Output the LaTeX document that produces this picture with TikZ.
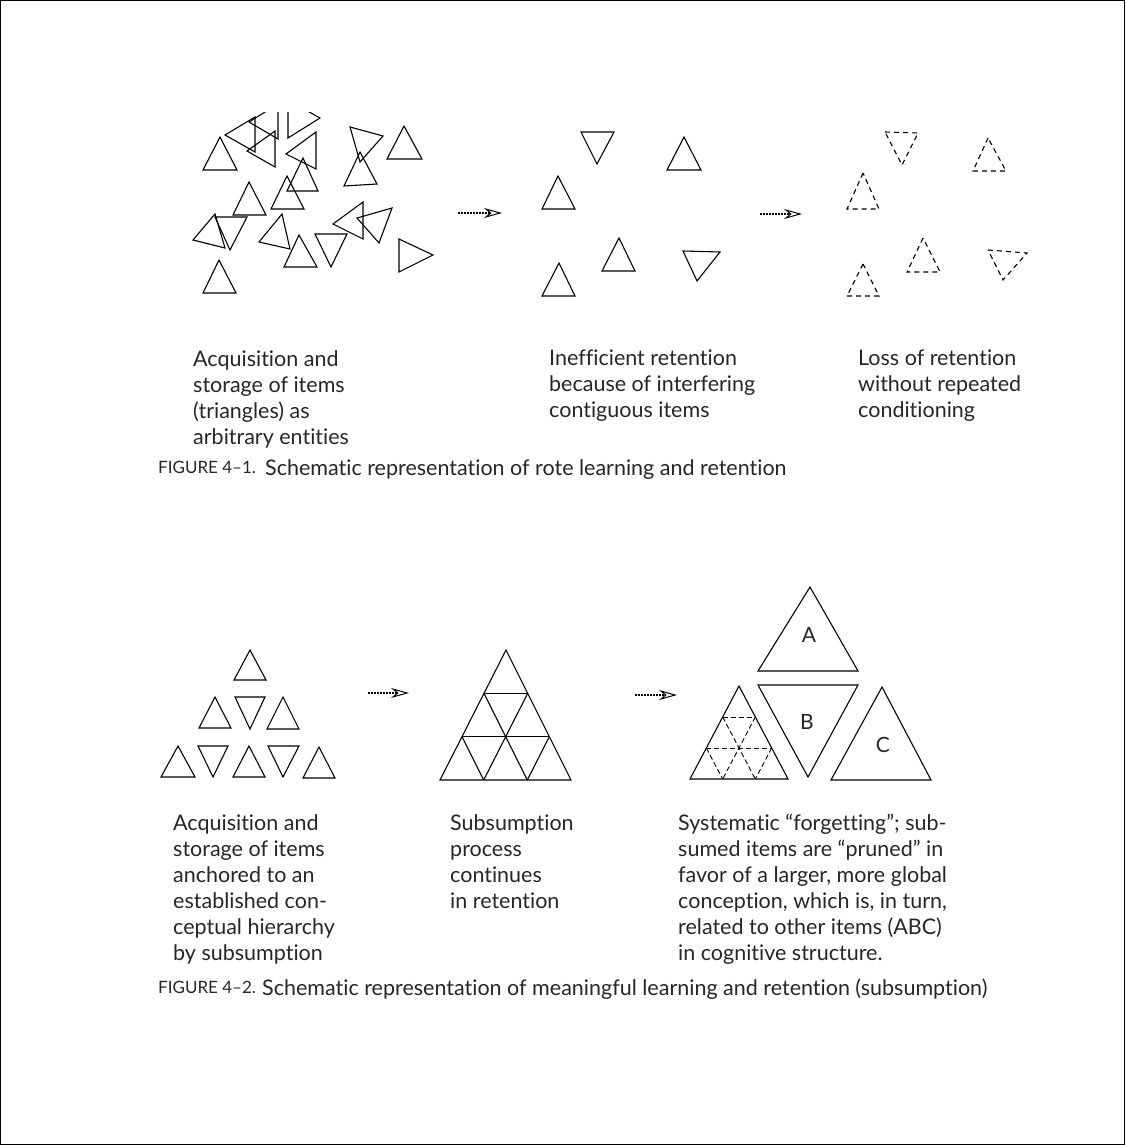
\documentclass[tikz,border=0pt]{standalone}
\usepackage{fontspec}
\setmainfont{Lato}[Ligatures={NoCommon,NoContextual}]
\usetikzlibrary{arrows.meta}

\begin{document}
\begin{tikzpicture}[x=1pt,y=-1pt,
	tri/.style={line width=1.1pt, line join=miter},
	dtri/.style={line width=1.1pt, dash pattern=on 5pt off 4pt},
	dgrid/.style={line width=0.9pt, dash pattern=on 5pt off 3pt},
	pointer/.style={line width=1.6pt, dash pattern=on 2pt off 1pt, -{Stealth[open, length=18pt, width=10pt, inset=6pt, line width=1pt]}},
	txt/.style={font=\fontsize{21.5}{26}\selectfont, inner sep=0pt, anchor=north west, align=left, text=black!85},
	figno/.style={font=\fontsize{17}{26}\selectfont, inner sep=0pt, anchor=north west, text=black!85},
	letter/.style={font=\fontsize{21}{21}\selectfont, inner sep=0pt, text=black!85}]
	\useasboundingbox (0,0) rectangle (1125,1145);
	\draw[line width=1pt] (0.5,0.5) rectangle (1124.5,1144.5);
	
	% rote learning: loose items
	\begin{scope}
		\clip (150,113) rectangle (470,320);
		\draw[tri] (203,170) -- (237,170) -- (220,137) -- cycle;
		\draw[tri] (225,135) -- (255,117) -- (255,152) -- cycle;
		\draw[tri] (247,151) -- (275,131) -- (275,167) -- cycle;
		\draw[tri] (278,139) -- (278,104) -- (249,122) -- cycle;
		\draw[tri] (288,138) -- (288,100) -- (320,118) -- cycle;
		\draw[tri] (286,154) -- (316,132) -- (316,169) -- cycle;
		\draw[tri] (303,158) -- (287,191) -- (318,191) -- cycle;
		\draw[tri] (287,176) -- (271,209) -- (304,209) -- cycle;
		\draw[tri] (249,182) -- (233,215) -- (266,215) -- cycle;
		\draw[tri] (350,127) -- (383,136) -- (360,162) -- cycle;
		\draw[tri] (360,152) -- (344,186) -- (377,184) -- cycle;
		\draw[tri] (404,126) -- (387,159) -- (422,159) -- cycle;
		\draw[tri] (193,240) -- (215,214) -- (225,248) -- cycle;
		\draw[tri] (215,217) -- (247,217) -- (230,250) -- cycle;
		\draw[tri] (259,242) -- (282,214) -- (290,249) -- cycle;
		\draw[tri] (299,235) -- (284,267) -- (317,267) -- cycle;
		\draw[tri] (315,234) -- (347,234) -- (331,267) -- cycle;
		\draw[tri] (333,224) -- (363,202) -- (363,239) -- cycle;
		\draw[tri] (357,218) -- (392,208) -- (379,243) -- cycle;
		\draw[tri] (399,239) -- (399,272) -- (433,255) -- cycle;
		\draw[tri] (219,260) -- (203,293) -- (236,293) -- cycle;
	\end{scope}
	
	\coordinate (p1s) at (458,213);
	\coordinate (p1e) at (502,213);
	\draw[pointer] (p1s) -- (p1e);
	
	\draw[tri] (581,132) -- (614,132) -- (597,164) -- cycle;
	\draw[tri] (684,137) -- (667,170) -- (701,170) -- cycle;
	\draw[tri] (558,176) -- (542,209) -- (575,209) -- cycle;
	\draw[tri] (619,238) -- (602,271) -- (635,271) -- cycle;
	\draw[tri] (683,251) -- (720,252) -- (697,281) -- cycle;
	\draw[tri] (559,263) -- (542,296) -- (575,296) -- cycle;
	
	\coordinate (p2s) at (760,214);
	\coordinate (p2e) at (802,214);
	\draw[pointer] (p2s) -- (p2e);
	
	\draw[dtri] (885,132) -- (918,133) -- (902,165) -- cycle;
	\draw[dtri] (988,138) -- (973,171) -- (1006,171) -- cycle;
	\draw[dtri] (863,173) -- (847,209) -- (879,209) -- cycle;
	\draw[dtri] (923,238) -- (907,272) -- (940,272) -- cycle;
	\draw[dtri] (988,250) -- (1027,253) -- (1003,280) -- cycle;
	\draw[dtri] (863,264) -- (847,296) -- (879,296) -- cycle;
	
	\node[txt] (rote1) at (193,350) {Acquisition and\\storage of items\\(triangles) as\\arbitrary entities};
	\node[txt] (rote2) at (549,350) {Inefficient retention\\because of interfering\\contiguous items};
	\node[txt] (rote3) at (858,350) {Loss of retention\\without repeated\\conditioning};
	\node[figno] (fig1) at (158,461) {FIGURE 4--1.};
	\node[txt] (cap1) at (265,459) {Schematic representation of rote learning and retention};
	
	% meaningful learning: anchored items
	\draw[tri] (250,650) -- (234,680) -- (266,680) -- cycle;
	\draw[tri] (215,697) -- (199,728) -- (231,728) -- cycle;
	\draw[tri] (235,697) -- (265,697) -- (250,729) -- cycle;
	\draw[tri] (283,697) -- (267,729) -- (299,729) -- cycle;
	\draw[tri] (178,746) -- (161,777) -- (195,777) -- cycle;
	\draw[tri] (198,746) -- (228,746) -- (213,777) -- cycle;
	\draw[tri] (249,746) -- (233,777) -- (265,777) -- cycle;
	\draw[tri] (268,746) -- (299,746) -- (283,777) -- cycle;
	\draw[tri] (319,747) -- (303,778) -- (335,778) -- cycle;
	
	\coordinate (p3s) at (368,693);
	\coordinate (p3e) at (409,693);
	\draw[pointer] (p3s) -- (p3e);
	
	\draw[tri] (506,650) -- (440,780) -- (571,780) -- cycle;
	\draw[tri] (484,693.3) -- (527.7,693.3);
	\draw[tri] (462,736.7) -- (549.3,736.7);
	\draw[tri] (527.7,693.3) -- (483.7,780);
	\draw[tri] (549.3,736.7) -- (527.3,780);
	\draw[tri] (484,693.3) -- (527.3,780);
	\draw[tri] (462,736.7) -- (483.7,780);
	
	\coordinate (p4s) at (635,695);
	\coordinate (p4e) at (677,695);
	\draw[pointer] (p4s) -- (p4e);
	
	\draw[tri] (739,686) -- (690,779) -- (788,779) -- cycle;
	\draw[dgrid] (722.7,717) -- (755.3,717);
	\draw[dgrid] (706.3,748) -- (771.7,748);
	\draw[dgrid] (755.3,717) -- (722.7,779);
	\draw[dgrid] (771.7,748) -- (755.3,779);
	\draw[dgrid] (722.7,717) -- (755.3,779);
	\draw[dgrid] (706.3,748) -- (722.7,779);
	
	\draw[tri] (810,587) -- (758,671) -- (858,671) -- cycle;
	\draw[tri] (758,685) -- (858,685) -- (808,777) -- cycle;
	\draw[tri] (882,687) -- (831,780) -- (931,780) -- cycle;
	\node[letter] (itemA) at (809,635) {A};
	\node[letter] (itemB) at (807,722) {B};
	\node[letter] (itemC) at (883,745) {C};
	
	\node[txt] (mean1) at (173,814) {Acquisition and\\storage of items\\anchored to an\\established con-\\ceptual hierarchy\\by subsumption};
	\node[txt] (mean2) at (450,814) {Subsumption\\process\\continues\\in retention};
	\node[txt] (mean3) at (678,814) {Systematic “forgetting”; sub-\\sumed items are “pruned” in\\favor of a larger, more global\\conception, which is, in turn,\\related to other items (ABC)\\in cognitive structure.};
	\node[figno] (fig2) at (158,981) {FIGURE 4--2.};
	\node[txt] (cap2) at (262,979) {Schematic representation of meaningful learning and retention (subsumption)};
\end{tikzpicture}
\end{document}
